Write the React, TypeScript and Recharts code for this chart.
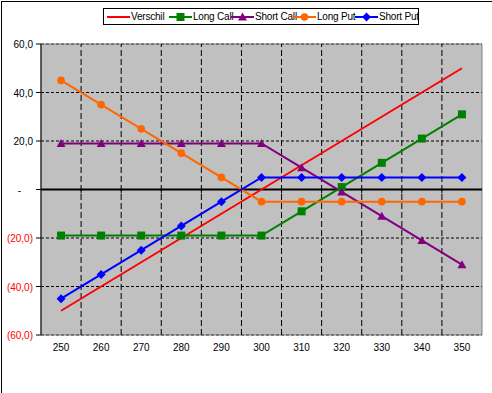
import {
  LineChart,
  Line,
  XAxis,
  YAxis,
  CartesianGrid,
  ReferenceLine,
  ReferenceArea,
} from "recharts";

const strikes = [250, 260, 270, 280, 290, 300, 310, 320, 330, 340, 350];
const verschil = [-50, -40, -30, -20, -10, 0, 10, 20, 30, 40, 50];
const longCall = [-19, -19, -19, -19, -19, -19, -9, 1, 11, 21, 31];
const shortCall = [19, 19, 19, 19, 19, 19, 9, -1, -11, -21, -31];
const longPut = [45, 35, 25, 15, 5, -5, -5, -5, -5, -5, -5];
const shortPut = [-45, -35, -25, -15, -5, 5, 5, 5, 5, 5, 5];
const yTicks = [-60, -40, -20, 0, 20, 40, 60];
const bandEdges = [255, 265, 275, 285, 295, 305, 315, 325, 335, 345];

const series = [
  { key: "verschil", name: "Verschil", color: "#FF0000", marker: "none", values: verschil },
  { key: "longCall", name: "Long Call", color: "#008000", marker: "square", values: longCall },
  { key: "shortCall", name: "Short Call", color: "#800080", marker: "triangle", values: shortCall },
  { key: "longPut", name: "Long Put", color: "#FF6600", marker: "circle", values: longPut },
  { key: "shortPut", name: "Short Put", color: "#0000FF", marker: "diamond", values: shortPut },
];

const data = strikes.map((x, i) => {
  const row: Record<string, number> = { x };
  series.forEach((s) => {
    row[s.key] = s.values[i];
  });
  return row;
});

const font = "'Liberation Sans', Arial, sans-serif";

function Marker({ cx, cy, color, marker }: { cx: number; cy: number; color: string; marker: string }) {
  if (cx == null || cy == null) return null;
  if (marker === "square")
    return <rect x={cx - 4} y={cy - 4} width={8} height={8} fill={color} />;
  if (marker === "triangle")
    return (
      <polygon
        points={`${cx},${cy - 4.5} ${cx + 4.5},${cy + 3.5} ${cx - 4.5},${cy + 3.5}`}
        fill={color}
      />
    );
  if (marker === "circle") return <circle cx={cx} cy={cy} r={3.8} fill={color} />;
  if (marker === "diamond")
    return (
      <polygon
        points={`${cx},${cy - 4.5} ${cx + 4.5},${cy} ${cx},${cy + 4.5} ${cx - 4.5},${cy}`}
        fill={color}
      />
    );
  return null;
}

function fmtY(v: number) {
  if (v === 0) return "-";
  const s = Math.abs(v).toFixed(1).replace(".", ",");
  return v < 0 ? `(${s})` : s;
}

function YTick(props: any) {
  const { x, y, payload } = props;
  const v = payload.value;
  return (
    <text
      x={v === 0 ? x - 12 : x}
      y={y}
      dy={4}
      textAnchor="end"
      fontSize={10}
      fontFamily={font}
      fill={v < 0 ? "#FF0000" : "#000"}
    >
      {fmtY(v)}
    </text>
  );
}

function LegendBox() {
  return (
    <div
      style={{
        position: "absolute",
        left: 103,
        top: 8,
        width: 316,
        height: 17,
        border: "1px solid #000",
        background: "#fff",
        display: "flex",
        alignItems: "center",
        fontFamily: font,
        fontSize: 10,
        letterSpacing: -0.2,
        color: "#000",
        paddingLeft: 3,
        boxSizing: "border-box",
      }}
    >
      {series.map((s) => (
        <div key={s.key} style={{ display: "flex", alignItems: "center", width: 62, whiteSpace: "nowrap" }}>
          <svg width={23} height={10} style={{ flex: "none" }}>
            <line x1={0} y1={5} x2={23} y2={5} stroke={s.color} strokeWidth={2} />
            <Marker cx={11.5} cy={5} color={s.color} marker={s.marker} />
          </svg>
          <span style={{ marginLeft: 1 }}>{s.name}</span>
        </div>
      ))}
    </div>
  );
}

export default function App() {
  return (
    <div
      style={{
        position: "absolute",
        left: 0,
        top: 0,
        width: 492,
        height: 393,
        background: "#fff",
        overflow: "hidden",
      }}
    >
      <div
        style={{
          position: "absolute",
          left: 1,
          top: 1,
          width: 600,
          height: 500,
          borderLeft: "1px solid #000",
          borderTop: "1px solid #000",
        }}
      />
      <LineChart
        width={492}
        height={393}
        data={data}
        margin={{ top: 44, right: 10, left: 1, bottom: 28 }}
        style={{ position: "absolute", left: 0, top: 0 }}
      >
        <CartesianGrid
          fill="#C0C0C0"
          stroke="#000"
          strokeDasharray="3 2"
          vertical={false}
        />
        {bandEdges.map((v) => (
          <ReferenceLine
            key={`g${v}`}
            x={v}
            stroke="#000"
            strokeWidth={1}
            strokeDasharray="6 3"
          />
        ))}
        <ReferenceArea
          x1={245}
          x2={355}
          y1={-60}
          y2={60}
          fill="none"
          stroke="#808080"
          strokeWidth={1}
          ifOverflow="visible"
        />
        <XAxis
          type="number"
          dataKey="x"
          domain={[245, 355]}
          ticks={strikes}
          height={30}
          tickSize={0}
          tickMargin={9}
          axisLine={false}
          tickLine={false}
          tick={{ fontSize: 10, fontFamily: font, fill: "#000" }}
        />
        <YAxis
          domain={[-60, 60]}
          ticks={yTicks}
          width={40}
          tickSize={5}
          tickMargin={3}
          axisLine={{ stroke: "#000" }}
          tickLine={{ stroke: "#000" }}
          tick={<YTick />}
        />
        <ReferenceLine y={0} stroke="#000" strokeWidth={2} />
        {bandEdges.map((v) => (
          <ReferenceLine
            key={`t${v}`}
            segment={[
              { x: v, y: 0 },
              { x: v, y: -1.6 },
            ]}
            stroke="#000"
            strokeWidth={1}
          />
        ))}
        {series.map((s) => (
          <Line
            key={s.key}
            dataKey={s.key}
            name={s.name}
            stroke={s.color}
            strokeWidth={2}
            isAnimationActive={false}
            dot={(p: any) => (
              <Marker key={`${s.key}-${p.index}`} cx={p.cx} cy={p.cy} color={s.color} marker={s.marker} />
            )}
            activeDot={false}
          />
        ))}
      </LineChart>
      <LegendBox />
    </div>
  );
}
